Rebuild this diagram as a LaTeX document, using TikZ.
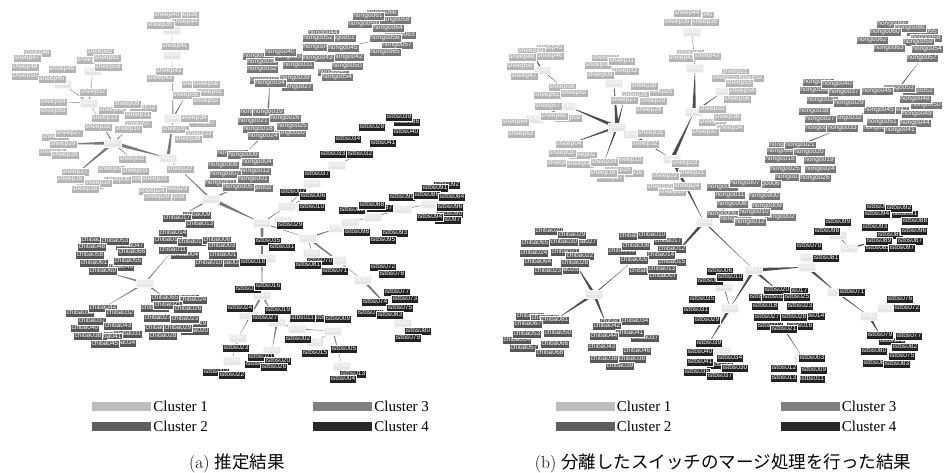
\documentclass[tikz,border=0pt]{standalone}
\usepackage{fontspec}
\newfontfamily\lblfont{Liberation Sans}
\newfontfamily\keyfont{Liberation Serif}
\newfontfamily\cjk{Noto Sans CJK JP}
\usepackage{tikz}
\usetikzlibrary{positioning,calc}
\pgfdeclarelayer{background}
\pgfsetlayers{background,main}
\definecolor{sheepgray}{HTML}{B4B4B4}
\definecolor{chibagray}{HTML}{575757}
\definecolor{hongogray}{HTML}{767676}
\definecolor{istbsgray}{HTML}{222222}
\definecolor{switchgray}{HTML}{E6E6E6}
\definecolor{key1}{HTML}{BEBEBE}
\definecolor{key2}{HTML}{5E5E5E}
\definecolor{key3}{HTML}{808080}
\definecolor{key4}{HTML}{282828}
\begin{document}
\begin{tikzpicture}[%
        x=1pt, y=-1pt,
        label box/.style={%
            inner xsep=1.2pt, inner ysep=0.7pt,
            text height=4.8pt, text depth=1.3pt,
            draw=white, line width=0.4pt, text=white,
            node font=\lblfont\fontsize{6.6pt}{6.6pt}\selectfont,
        },
        sheep/.style={label box, fill=sheepgray},
        chiba/.style={label box, fill=chibagray},
        hongo/.style={label box, fill=hongogray},
        istbs/.style={label box, fill=istbsgray},
        switchbox/.style={label box, fill=switchgray, draw=white!97!black},
        linkA/.style={fill=black!52},
        linkB/.style={fill=black!70},
        keybox/.style={minimum width=59pt, minimum height=9pt, inner sep=0pt},
        keytext/.style={node font=\keyfont\fontsize{15pt}{15pt}\selectfont, inner sep=0pt},
        captext/.style={node font=\fontsize{17.5pt}{18pt}\selectfont, inner sep=0pt},
    ]
    \useasboundingbox (0,0) rectangle (944,472);

    % (a)
    \foreach \n/\x/\y in {s033/172/30, s034/172/55, s006/173/118, s000/168/158, s007/113/143,
        s026/89/103, s027/93/71, s028/63/84, s001/211/199, s002/262/223, s012/287/206,
        s018/283/220, s010/308/238, s038/338/228, s050/350/222, s021/373/217, s059/403/209,
        s061/430/204, s022/337/165, s054/312/183, s035/312/253, s020/338/260, s015/363/280,
        s052/403/323, s014/267/258, s019/262/295, s047/248/315, s042/277/322, s037/297/329,
        s060/333/331, s057/238/338, s045/315/342, s031/272/350, s065/232/361, s064/342/366,
        s013/145/283} {%
        \node[switchbox] (a-\n) at (\x,\y) {\n};
    }
    \foreach \n/\x/\y in {sheep39/185/15, sheep40/167/15, sheep44/185/22, sheep35/160/25,
        sheep41/175/46, sheep42/160/78, sheep43/169/71, sheep53/195/84, sheep58/206/84,
        sheep51/210/92, sheep55/186/95, sheep52/206/101, sheep37/202/123, sheep34/194/118,
        sheep31/175/129, sheep33/199/134, sheep38/188/139, sheep19/172/197, sheep22/180/169,
        sheep04/140/179, sheep21/155/179, sheep23/175/189, sheep24/152/191, sheep20/157/197,
        sheep46/37/53, sheep47/27/58, sheep48/25/67, sheep50/25/76, sheep49/62/69, sheep45/52/79,
        sheep60/90/60, sheep62/100/52, sheep61/107/58, sheep59/108/67, sheep57/93/92,
        sheep64/53/102, sheep63/53/111, sheep12/143/108, sheep08/112/110, sheep09/127/104,
        sheep11/138/115, sheep13/105/118, sheep32/98/127, sheep07/138/124, sheep10/128/129,
        sheep28/55/137, sheep26/52/152, sheep27/69/133, sheep29/63/144, sheep30/65/155,
        sheep02/132/159, sheep14/90/185, sheep05/111/169, sheep03/135/171, sheep17/75/172,
        sheep16/70/179, sheep06/117/180, sheep15/98/183, sheep18/85/189} {%
        \node[sheep] (a-\n) at (\x,\y) {\n};
    }
    \foreach \n/\x/\y in {hongo066/382/13, hongo058/395/20, hongo063/400/35, hongo057/397/45,
        hongo044/323/33, hongo046/318/47, hongo047/333/72, hongo035/258/56, hongo036/262/62,
        hongo037/290/57, hongo030/265/80, hongo027/297/87, hongo061/368/16, hongo059/363/24,
        hongo064/388/28, hongo056/385/38, hongo065/385/52, hongo051/340/38, hongo052/318/38,
        hongo045/343/48, hongo042/348/57, hongo043/318/58, hongo050/347/66, hongo054/337/77,
        hongo040/280/52, hongo031/298/65, hongo032/262/69, hongo039/295/78, hongo034/270/83,
        hongo022/255/112, hongo019/268/112, hongo021/253/121, hongo026/285/118,
        hongo018/258/129, hongo020/290/133, hongo025/292/126, hongo024/263/136,
        hongo006/232/153, hongo003/220/183, hongo002/257/188, hongo009/243/155,
        hongo004/257/162, hongo008/223/165, hongo012/255/171, hongo007/225/174,
        hongo001/253/179, hongo005/238/187} {%
        \node[hongo] (a-\n) at (\x,\y) {\n};
    }
    \foreach \n/\x/\y in {chiba009/197/215, chiba017/177/218, chiba013/200/224,
        chiba014/173/233, chiba015/168/240, chiba012/192/242, chiba006/217/240,
        chiba004/185/255, chiba002/228/263, chiba003/222/246, chiba011/173/250,
        chiba001/223/255, chiba010/209/263, chiba049/95/240, chiba047/130/246,
        chiba046/120/267, chiba053/115/241, chiba048/92/247, chiba066/132/252,
        chiba058/90/255, chiba061/94/263, chiba055/128/261, chiba060/103/271,
        chiba039/80/313, chiba040/85/328, chiba036/118/335, chiba031/128/334,
        chiba041/108/337, chiba034/122/343, chiba044/103/308, chiba032/120/313,
        chiba037/92/321, chiba043/118/326, chiba038/88/336, chiba045/105/344,
        chiba025/185/298, chiba024/193/300, chiba018/155/308, chiba019/193/324,
        chiba020/195/331, chiba028/163/336, chiba065/165/298, chiba021/168/305,
        chiba026/188/309, chiba027/158/318, chiba023/185/319, chiba030/159/328,
        chiba029/178/328} {%
        \node[chiba] (a-\n) at (\x,\y) {\n};
    }
    \foreach \n/\x/\y in {istbs036/407/122, istbs039/399/117, istbs028/372/127,
        istbs040/406/132, istbs034/348/139, istbs041/383/143, istbs033/333/154,
        istbs032/360/154, istbs037/317/174, istbs007/293/192, istbs006/313/196,
        istbs010/312/207, istbs092/447/185, istbs091/435/188, istbs099/402/197,
        istbs086/427/195, istbs084/452/197, istbs090/450/214, istbs097/448/220,
        istbs096/450/207, istbs094/430/217, istbs087/380/208, istbs089/352/210,
        istbs088/372/205, istbs098/357/232, istbs093/395/233, istbs095/383/240,
        istbs029/290/225, istbs035/268/241, istbs031/282/247, istbs070/320/261,
        istbs081/308/265, istbs071/335/271, istbs072/383/267, istbs076/392/274,
        istbs078/370/313, istbs077/397/292, istbs073/405/299, istbs074/375/302,
        istbs075/400/308, istbs083/390/315, istbs080/418/331, istbs079/408/338,
        istbs018/253/262, istbs017/248/289, istbs016/268/286, istbs024/240/308,
        istbs019/278/310, istbs027/265/318, istbs012/325/318, istbs011/302/318,
        istbs009/338/319, istbs002/298/339, istbs023/236/348, istbs015/315/353,
        istbs005/344/349, istbs025/258/364, istbs021/261/357, istbs020/278/361,
        istbs026/274/367, istbs003/216/372, istbs022/232/375, istbs013/353/374,
        istbs004/343/379} {%
        \node[istbs] (a-\n) at (\x,\y) {\n};
    }

    % (b)
    \foreach \n/\x/\y in {s008/692/32, s000/695/68, s003/694/112, s019/724/91, s001/617/127,
        s004/614/83, s063/567/106, s067/535/119, s065/542/70, s006/632/134, s009/672/159,
        s011/704/222, s055/594/294, s017/754/270, s039/807/267, s044/809/257, s047/838/235,
        s046/849/248, s040/836/292, s041/869/316, s043/886/308, s030/730/308, s029/724/287,
        s033/722/351, s036/803/358} {%
        \node[switchbox] (b-\n) at (\x,\y) {\n};
    }
    \foreach \n/\x/\y in {sheep40/700/15, sheep44/687/13, sheep35/677/22, sheep39/705/22,
        sheep42/690/53, sheep41/682/58, sheep43/707/56, sheep51/735/72, sheep52/750/78,
        sheep55/725/78, sheep53/739/83, sheep54/742/91, sheep56/737/99, sheep36/712/122,
        sheep33/712/109, sheep38/727/117, sheep34/730/128, sheep37/705/132, sheep20/660/187,
        sheep19/672/192, sheep23/685/163, sheep21/692/173, sheep22/665/176, sheep24/687/186,
        sheep31/651/133, sheep32/645/144, sheep10/605/58, sheep08/598/65, sheep11/622/61,
        sheep12/625/71, sheep09/600/75, sheep25/660/92, sheep26/635/95, sheep30/644/86,
        sheep27/624/100, sheep29/653/101, sheep28/649/110, sheep02/583/155, sheep05/560/163,
        sheep06/580/164, sheep04/569/144, sheep03/562/153, sheep16/630/173, sheep15/618/170,
        sheep13/629/160, sheep14/604/162, sheep17/610/178, sheep18/603/173, sheep45/550/48,
        sheep49/531/51, sheep46/550/56, sheep48/522/57, sheep50/520/66, sheep47/524/76,
        sheep61/547/95, sheep58/562/87, sheep62/574/93, sheep57/548/106, sheep59/568/118,
        sheep60/554/116, sheep64/515/122, sheep63/521/134} {%
        \node[sheep] (b-\n) at (\x,\y) {\n};
    }
    \foreach \n/\x/\y in {hongo066/892/24, hongo055/922/32, hongo058/926/38, hongo059/918/42,
        hongo086/910/28, hongo060/885/32, hongo062/872/40, hongo063/889/48, hongo054/927/49,
        hongo057/922/58, hongo052/918/91, hongo050/926/105, hongo042/893/110,
        hongo043/878/128, hongo053/899/88, hongo046/877/91, hongo048/915/99,
        hongo045/879/110, hongo049/917/114, hongo051/882/122, hongo044/915/123,
        hongo041/900/130, hongo035/818/82, hongo036/815/90, hongo031/835/117,
        hongo030/820/128, hongo040/837/84, hongo037/844/92, hongo039/822/100,
        hongo029/849/103, hongo038/814/111, hongo032/847/118, hongo027/820/119,
        hongo033/842/128, hongo022/784/145, hongo023/782/151, hongo017/790/177,
        hongo021/800/145, hongo020/809/152, hongo018/780/159, hongo019/819/160,
        hongo025/785/169, hongo024/820/169, hongo026/815/178, hongo004/722/187,
        hongo006/765/184, hongo005/722/214, hongo002/780/217, hongo001/735/219,
        hongo007/745/183, hongo011/730/195, hongo000/764/196, hongo008/732/204,
        hongo009/767/206, hongo010/754/212, hongo012/750/222} {%
        \node[hongo] (b-\n) at (\x,\y) {\n};
    }
    \foreach \n/\x/\y in {chiba020/549/231, chiba027/583/242, chiba021/565/252,
        chiba025/565/270, chiba023/548/271, chiba029/572/235, chiba065/535/243,
        chiba030/564/242, chiba024/534/253, chiba022/580/256, chiba064/538/262,
        chiba028/575/263, chiba016/633/236, chiba017/668/241, chiba012/672/249,
        chiba018/622/251, chiba015/672/262, chiba011/643/271, chiba007/663/276,
        chiba010/652/235, chiba008/636/246, chiba014/661/255, chiba005/634/260,
        chiba013/662/269, chiba069/530/316, chiba070/545/318, chiba054/517/340,
        chiba081/555/320, chiba067/528/324, chiba053/527/334, chiba050/558/333,
        chiba066/555/344, chiba057/524/348, chiba068/550/353, chiba040/614/322,
        chiba034/635/321, chiba037/645/338, chiba036/632/359, chiba039/620/366,
        chiba042/607/326, chiba041/630/333, chiba044/604/336, chiba043/602/347,
        chiba046/637/351, chiba038/604/359} {%
        \node[chiba] (b-\n) at (\x,\y) {\n};
    }
    \foreach \n/\x/\y in {istbs099/838/222, istbs098/827/231, istbs070/809/246,
        istbs081/826/258, istbs090/879/207, istbs091/905/214, istbs088/915/221,
        istbs086/890/235, istbs085/878/248, istbs092/899/208, istbs094/877/214,
        istbs093/875/227, istbs096/914/231, istbs089/879/241, istbs087/910/241,
        istbs097/902/248, istbs071/852/292, istbs076/900/299, istbs072/907/308,
        istbs078/892/341, istbs084/876/363, istbs079/880/335, istbs077/909/336,
        istbs082/905/347, istbs080/874/351, istbs075/902/356, istbs083/897/364,
        istbs006/720/271, istbs008/710/281, istbs010/730/277, istbs035/702/299,
        istbs031/696/310, istbs029/707/320, istbs017/795/291, istbs019/762/297,
        istbs015/775/297, istbs014/812/316, istbs022/770/326, istbs016/800/326,
        istbs020/777/290, istbs025/797/297, istbs018/765/306, istbs023/800/306,
        istbs027/767/317, istbs028/794/317, istbs021/784/329, istbs003/812/358,
        istbs012/784/368, istbs009/814/370, istbs013/784/378, istbs011/812/379,
        istbs038/720/365, istbs030/735/368, istbs036/697/372, istbs039/709/343,
        istbs040/700/352, istbs034/730/358, istbs041/700/362, istbs037/720/376} {%
        \node[istbs] (b-\n) at (\x,\y) {\n};
    }

    \begin{pgfonlayer}{background}
        \fill[white] (0,0) rectangle (944,472);
        \foreach \s/\t/\w in {s001/s002/2pt, s001/s000/0.8pt, s001/hongo005/1pt,
            s001/chiba017/0.8pt, s013/chiba011/0.6pt, s013/chiba060/1pt, s013/chiba044/0.8pt,
            s013/chiba065/1pt, s007/s000/2pt, s000/s006/1.8pt, s006/sheep55/0.8pt,
            s006/s034/0.5pt, s034/s033/0.4pt, s007/s026/0.6pt, s026/s027/0.5pt,
            s026/s028/0.5pt, s026/sheep64/0.4pt, s007/sheep29/1.8pt, s007/sheep16/1.5pt,
            s007/sheep02/0.6pt, s007/sheep10/0.6pt, s002/s012/0.6pt, s012/s054/0.4pt,
            s054/s022/0.4pt, s022/istbs041/0.4pt, s012/istbs006/0.5pt, s002/s010/0.6pt,
            s002/s019/1.5pt, s019/s057/1pt, s019/s042/0.8pt, s042/s031/1pt, s042/s037/0.5pt,
            s037/s060/0.5pt, s060/s064/0.6pt, s060/s045/0.4pt, s057/s065/0.5pt,
            s010/s038/1pt, s038/s050/0.5pt, s050/s021/0.5pt, s021/s059/0.5pt,
            s059/s061/0.5pt, s010/s035/0.6pt, s010/s015/1pt, s015/s052/1.2pt,
            s010/s020/0.5pt, hongo019/hongo034/1pt, hongo024/hongo009/0.6pt,
            hongo045/hongo056/0.5pt} {%
            \fill[linkA] ($(a-\s)!\w!90:(a-\t)$) -- ($(a-\s)!\w!-90:(a-\t)$) -- (a-\t.center) -- cycle;
        }
        \foreach \s/\t/\w in {s001/s004/1.8pt, s001/s063/1.8pt, s001/sheep04/1.2pt,
            s001/sheep14/1pt, s001/sheep27/1pt, s006/s009/1pt, s009/s003/2pt,
            s003/s000/1.8pt, s000/s008/0.4pt, s003/s019/0.8pt, s009/s011/1.8pt,
            s011/hongo008/0.8pt, s011/chiba013/1.5pt, s055/chiba005/0.5pt,
            s055/chiba028/1.5pt, s055/chiba081/1.5pt, s055/chiba042/1.5pt, s011/s017/0.6pt,
            s017/s039/2pt, s017/s030/1.5pt, s029/s030/0.5pt, s017/istbs020/1.5pt,
            s030/istbs039/1.5pt, istbs021/s036/0.5pt, s039/istbs081/0.6pt, s047/s046/0.5pt,
            s046/istbs089/1pt, s039/s040/1.5pt, s040/s041/0.8pt, s041/istbs079/1.5pt,
            s065/sheep49/0.8pt, s065/sheep58/0.4pt, s063/s067/0.5pt,
            hongo021/hongo033/0.6pt, hongo045/hongo032/1.5pt, hongo053/hongo057/0.5pt,
            hongo025/hongo000/0.5pt} {%
            \fill[linkB] ($(b-\s)!\w!90:(b-\t)$) -- ($(b-\s)!\w!-90:(b-\t)$) -- (b-\t.center) -- cycle;
        }
    \end{pgfonlayer}

    % legends
    \node[keybox, fill=key1] (a-key1) at (121.5,406.5) {};
    \node[keytext, right=2pt of a-key1] {Cluster 1};
    \node[keybox, fill=key2] (a-key2) at (121.5,426.5) {};
    \node[keytext, right=2pt of a-key2] {Cluster 2};
    \node[keybox, fill=key3] (a-key3) at (342.5,406.5) {};
    \node[keytext, right=2pt of a-key3] {Cluster 3};
    \node[keybox, fill=key4] (a-key4) at (342.5,426.5) {};
    \node[keytext, right=2pt of a-key4] {Cluster 4};

    \node[keybox, fill=key1] (b-key1) at (585,406.5) {};
    \node[keytext, right=2pt of b-key1] {Cluster 1};
    \node[keybox, fill=key2] (b-key2) at (585,426.5) {};
    \node[keytext, right=2pt of b-key2] {Cluster 2};
    \node[keybox, fill=key3] (b-key3) at (810,406.5) {};
    \node[keytext, right=2pt of b-key3] {Cluster 3};
    \node[keybox, fill=key4] (b-key4) at (810,426.5) {};
    \node[keytext, right=2pt of b-key4] {Cluster 4};

    \node[captext] (a-caption) at (237,463) {(a) {\cjk 推定結果}};
    \node[captext] (b-caption) at (723,463) {(b) {\cjk 分離したスイッチのマージ処理を行った結果}};
\end{tikzpicture}
\end{document}
